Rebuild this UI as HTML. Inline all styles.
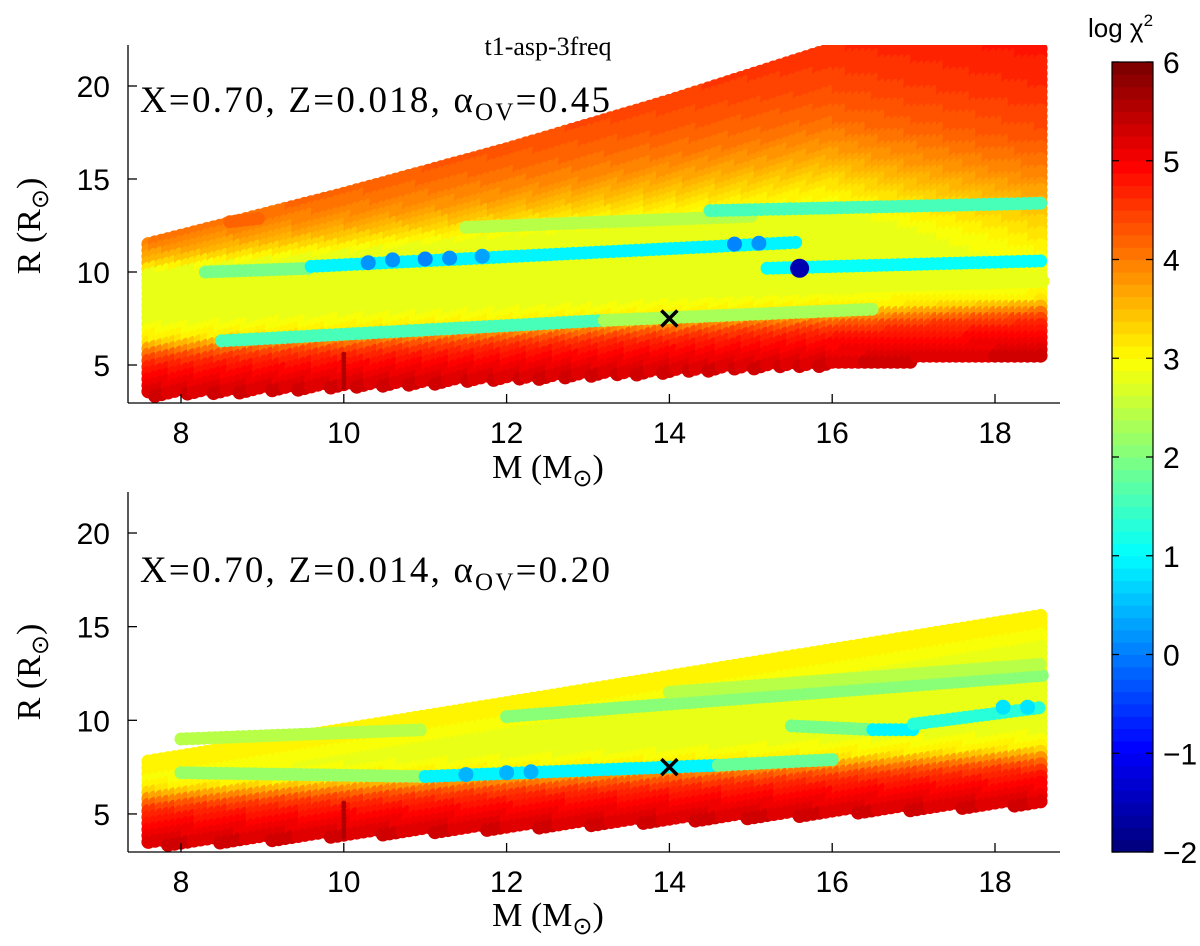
<!DOCTYPE html>
<html><head><meta charset="utf-8">
<style>
body{margin:0;background:#fff;}
svg{display:block;}
text{fill:#000;}
.serif{font-family:"Liberation Serif",serif;}
.sans{font-family:"Liberation Sans",sans-serif;}
</style></head>
<body>
<svg id="chart" width="1200" height="946" viewBox="0 0 1200 946" xmlns="http://www.w3.org/2000/svg">
<defs>
<clipPath id="clipTop"><rect x="128" y="45" width="932" height="358"/></clipPath>
<clipPath id="clipBot"><rect x="128" y="492" width="932" height="360"/></clipPath>
</defs>
<g id="topPts" clip-path="url(#clipTop)"></g>
<g id="botPts" clip-path="url(#clipBot)"></g>
<g id="axes"></g>
<text class="serif" x="548" y="55" font-size="26" text-anchor="middle">t1-asp-3freq</text>
<text class="serif" x="140" y="112" font-size="37" textLength="470">X=0.70, Z=0.018, α<tspan font-size="25" dy="8">OV</tspan><tspan dy="-8">=0.45</tspan></text>
<text class="serif" x="140" y="582" font-size="37" textLength="470">X=0.70, Z=0.014, α<tspan font-size="25" dy="8">OV</tspan><tspan dy="-8">=0.20</tspan></text>
<text class="serif" x="548" y="478" font-size="34" text-anchor="middle">M (M<tspan font-size="24" dy="8">⊙</tspan><tspan dy="-8">)</tspan></text>
<text class="serif" x="548" y="926" font-size="34" text-anchor="middle">M (M<tspan font-size="24" dy="8">⊙</tspan><tspan dy="-8">)</tspan></text>
<text class="serif" transform="translate(40,226) rotate(-90)" font-size="34" text-anchor="middle">R (R<tspan font-size="24" dy="8">⊙</tspan><tspan dy="-8">)</tspan></text>
<text class="serif" transform="translate(40,672) rotate(-90)" font-size="34" text-anchor="middle">R (R<tspan font-size="24" dy="8">⊙</tspan><tspan dy="-8">)</tspan></text>
<text class="sans" x="1088" y="37" font-size="26">log χ<tspan font-size="17" dy="-11">2</tspan></text>
<g id="cbar"></g>
</svg>
<script>
const NS="http://www.w3.org/2000/svg";
// ---- data ----
const xTicks=[8,10,12,14,16,18];
const yTicks=[5,10,15,20];
const cbarTicks=[-2,-1,0,1,2,3,4,5,6];
const topLowerM=[7.6,18.6], topLowerR=[3.3,5.5];
const topUpperM=[7.6,10,12,14,16,18.6], topUpperR=[11.5,14.2,16.6,19.2,22,22];
const botLowerM=[7.6,18.6], botLowerR=[3.3,5.5];
const botUpperM=[7.6,18.6], botUpperR=[7.8,15.6];
const lowD=[0,0.5,1,1.5,2,2.5,3,4], lowV=[5.3,5.1,4.95,4.75,4.45,3.8,3.1,2.8];
const topUD=[0,0.5,1,1.4,1.8,2.2,2.6,4], topUV=[4.8,4.6,4.3,3.9,3.4,3.0,2.8,2.7];
const botUD=[0,1,2,4], botUV=[3.1,2.95,2.8,2.8];
// streak tracks [m0,r0,m1,r1,logchi2]
const topTracks=[[8.3,8.2,18.6,9.5,2.8],[11.5,12.4,15,13,2.5],[8.3,10.0,9.6,10.2,2.0],[9.6,10.3,15.6,11.6,1.0],
 [15.2,10.2,18.6,10.6,1.1],[8.5,6.3,13.2,7.4,1.6],[13.2,7.4,16.5,8.0,2.3],[14.5,13.3,18.6,13.7,1.6],[8.6,12.7,9.0,12.9,4.2]];
const topDots=[[10.3,10.5,0.2],[10.6,10.65,0.2],[11,10.7,0.1],[11.3,10.75,0.2],[11.7,10.85,0.3],[14.8,11.5,0.1],[15.1,11.55,0.2]];
const botTracks=[[8,9.0,11,9.5,2.5],[12,10.2,18.6,12.4,2.1],[14,11.5,18.6,13,2.4],[15.5,9.7,16.5,9.5,2.0],[8,7.2,11,7.0,2.2],
 [11,7.0,14.6,7.6,1.0],[14.6,7.6,16,7.9,1.8],[16.5,9.5,17,9.5,1.0],[17,9.8,18.6,10.7,1.3]];
const botDots=[[11.5,7.1,0.5],[12,7.2,0.5],[12.3,7.25,0.5],[18.1,10.7,0.8],[18.4,10.7,0.8]];
const bestTop=[15.6,10.2,-1.5];
const cross=[14,7.5];
// ---- scales ----
const xS=m=>181+(m-8)*81.4;
const yTop=r=>86+(20-r)*18.6;
const yBot=r=>533+(20-r)*18.73;
function interp(xs,ys,x){if(x<=xs[0])return ys[0];for(let i=1;i<xs.length;i++){if(x<=xs[i]){const t=(x-xs[i-1])/(xs[i]-xs[i-1]);return ys[i-1]+t*(ys[i]-ys[i-1]);}}return ys[ys.length-1];}
function jet(v){let t=(v+2)/8;t=Math.max(0,Math.min(1,t));t=Math.floor(t*63.999)/63;
 const c=x=>Math.round(255*Math.max(0,Math.min(1,x)));
 return `rgb(${c(1.5-Math.abs(4*t-3))},${c(1.5-Math.abs(4*t-2))},${c(1.5-Math.abs(4*t-1))})`;}
function circ(g,x,y,r,col,name){const c=document.createElementNS(NS,'circle');c.setAttribute('cx',x.toFixed(1));c.setAttribute('cy',y.toFixed(1));c.setAttribute('r',r);c.setAttribute('fill',col);
 
 
 g.appendChild(c);}
function panel(gid,yS,lM,lR,uM,uR,uD,uV,tracks,dots,top){
 const g=document.getElementById(gid);
 for(let m=7.6;m<=18.61;m+=0.08){
  const lo=interp(lM,lR,m), hi=interp(uM,uR,m), s=(m-7.6)/11, w=top?1+4*s:1;
  for(let r=hi;r>=lo-0.01;r-=0.33){
   let tv=interp(uD,uV,(hi-r)/w); if(top) tv=Math.max(2.7,tv-0.8*(1-s));
   const v=Math.max(interp(lowD,lowV,r-lo),tv);
   circ(g,xS(m),yS(r),7,jet(v),'model-point');
  }
 }
 for(let r=interp(lM,lR,10);r<interp(lM,lR,10)+2;r+=0.2)circ(g,xS(10),yS(r),2.5,jet(5.6),'model-point');
 tracks.forEach(t=>{for(let m=t[0];m<=t[2]+0.001;m+=0.07){const r=t[1]+(t[3]-t[1])*(m-t[0])/Math.max(1e-6,t[2]-t[0]);circ(g,xS(m),yS(r),6.5,jet(t[4]),'track-point');}});
 dots.forEach(d=>circ(g,xS(d[0]),yS(d[1]),7.5,jet(d[2]),'low-chi2-point'));
 if(top)circ(g,xS(bestTop[0]),yS(bestTop[1]),9.5,jet(bestTop[2]),'best-fit-point');
 const cx=xS(cross[0]),cy=yS(cross[1]);
 const p=document.createElementNS(NS,'path');p.setAttribute('d',`M${cx-8},${cy-8}L${cx+8},${cy+8}M${cx-8},${cy+8}L${cx+8},${cy-8}`);p.setAttribute('stroke','#000');p.setAttribute('stroke-width','3.5');
 
 
 g.parentNode.appendChild(p);
}
panel('topPts',yTop,topLowerM,topLowerR,topUpperM,topUpperR,topUD,topUV,topTracks,topDots,true);
panel('botPts',yBot,botLowerM,botLowerR,botUpperM,botUpperR,botUD,botUV,botTracks,botDots,false);
const ax=document.getElementById('axes');
function line(x1,y1,x2,y2,name,sw){const l=document.createElementNS(NS,'line');l.setAttribute('x1',x1);l.setAttribute('y1',y1);l.setAttribute('x2',x2);l.setAttribute('y2',y2);l.setAttribute('stroke','#000');l.setAttribute('stroke-width',sw||1.3);
 
 
 ax.appendChild(l);}
function txt(x,y,s,anchor,name,size){const t=document.createElementNS(NS,'text');t.setAttribute('x',x);t.setAttribute('y',y);t.setAttribute('text-anchor',anchor);t.setAttribute('font-size',size||30);t.setAttribute('class','sans');t.textContent=s;
 
 
 ax.appendChild(t);}
[[45,403,yTop],[492,852,yBot]].forEach(([t,b,yS])=>{
 line(128,t,128,b,'y-axis-line');line(128,b,1060,b,'x-axis-line');
 xTicks.forEach(v=>{line(xS(v),b,xS(v),b-9,'x-tick');txt(xS(v),b+40,String(v),'middle','x-tick-label');});
 yTicks.forEach(v=>{line(128,yS(v),137,yS(v),'y-tick');txt(110,yS(v)+11,String(v),'end','y-tick-label');});
});
const cb=document.getElementById('cbar');
const cT=62,cB=852,cL=1112,cR=1153;
for(let i=0;i<64;i++){const r=document.createElementNS(NS,'rect');const h=(cB-cT)/64;r.setAttribute('x',cL);r.setAttribute('y',(cB-(i+1)*h).toFixed(2));r.setAttribute('width',cR-cL);r.setAttribute('height',(h+0.6).toFixed(2));r.setAttribute('fill',jet(-2+8*(i+0.5)/64));
 
 
 cb.appendChild(r);}
const fr=document.createElementNS(NS,'rect');fr.setAttribute('x',cL);fr.setAttribute('y',cT);fr.setAttribute('width',cR-cL);fr.setAttribute('height',cB-cT);fr.setAttribute('fill','none');fr.setAttribute('stroke','#000');fr.setAttribute('stroke-width','1.2');


cb.appendChild(fr);
cbarTicks.forEach(v=>{const y=cB-(v+2)/8*(cB-cT);
 const a=document.createElementNS(NS,'path');a.setAttribute('d',`M${cL},${y}h7M${cR},${y}h-7`);a.setAttribute('stroke','#000');a.setAttribute('stroke-width','1.2');
 
 
 cb.appendChild(a);
 const t=document.createElementNS(NS,'text');t.setAttribute('x',cR+10);t.setAttribute('y',y+11);t.setAttribute('font-size',30);t.setAttribute('class','sans');t.textContent=v<0?'\u2212'+Math.abs(v):String(v);
 
 
 cb.appendChild(t);});
</script>
</body></html>
